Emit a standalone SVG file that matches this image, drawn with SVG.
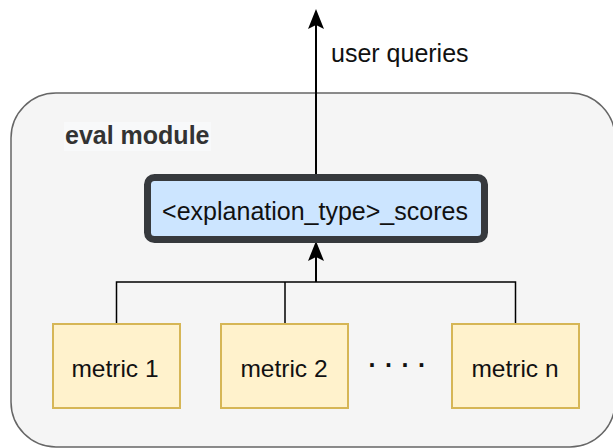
<svg xmlns="http://www.w3.org/2000/svg" width="613" height="448" viewBox="0 0 613 448">
  <style>
    .lbl { font-family: "Liberation Sans", Arial, Helvetica, sans-serif; font-size: 25px; fill: #111; }
    .small { font-size: 24.5px; }
    .title { font-family: "Liberation Sans", Arial, Helvetica, sans-serif; font-size: 25px; font-weight: bold; fill: #333; }
    .metric { fill: #fff2cc; stroke: #d6b656; stroke-width: 2; }
    .wire { fill: none; stroke: #000; stroke-width: 1.5; }
    .shaft { stroke: #000; stroke-width: 2; }
    .tip { fill: #000; }
  </style>

  <rect width="613" height="448" fill="#ffffff"/>

  <!-- container -->
  <g id="eval-module">
    <rect x="11" y="93" width="604" height="354" rx="45" ry="45" fill="#f5f5f5" stroke="#666666" stroke-width="1.5"/>
    <rect x="64" y="122" width="147" height="29" fill="#f8f9fa"/>
    <text class="title" x="65" y="144">eval module</text>
  </g>

  <!-- connectors -->
  <g id="connectors">
    <path class="wire" d="M116.5,324 V282 H515.5 V324 M285,324 V282"/>
    <line class="shaft" x1="316" y1="282" x2="316" y2="244"/>
    <path class="tip" d="M316,241 L324,261 L316,257 L308,261 Z"/>
    <line class="shaft" x1="316" y1="174" x2="316" y2="14"/>
    <path class="tip" d="M316,9 L324,29 L316,25 L308,29 Z"/>
    <text class="lbl" x="331" y="62">user queries</text>
  </g>

  <g id="scores">
    <rect x="147.5" y="177.5" width="337" height="62" rx="7" ry="7" fill="#cce5ff" stroke="#36393d" stroke-width="7"/>
    <text class="lbl" x="315" y="220" text-anchor="middle">&lt;explanation_type&gt;_scores</text>
  </g>

  <g id="metric-1">
    <rect class="metric" x="53" y="324" width="127" height="84"/>
    <text class="lbl small" x="115" y="377" text-anchor="middle">metric 1</text>
  </g>
  <g id="metric-2">
    <rect class="metric" x="221" y="324" width="127" height="84"/>
    <text class="lbl small" x="284" y="377" text-anchor="middle">metric 2</text>
  </g>
  <g id="ellipsis">
    <text class="title" x="368.5" y="367" style="fill:#111; letter-spacing:1.3px">. . . .</text>
  </g>
  <g id="metric-n">
    <rect class="metric" x="452" y="324" width="127" height="84"/>
    <text class="lbl small" x="515" y="377" text-anchor="middle">metric n</text>
  </g>
</svg>
